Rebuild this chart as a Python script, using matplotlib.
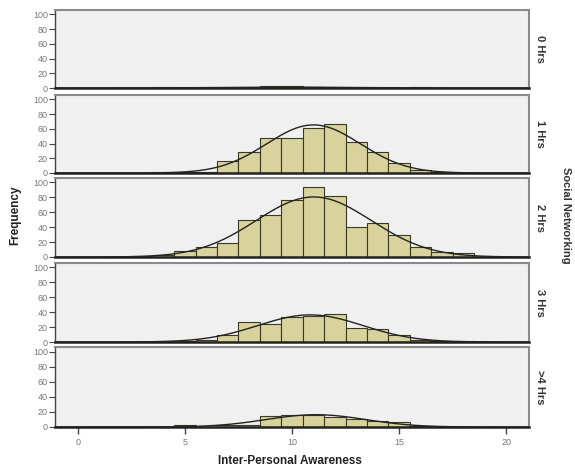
import numpy as np
import matplotlib
matplotlib.use("Agg")
from matplotlib import pyplot as plt

plt.rcParams['font.family'] = ['Liberation Sans', 'DejaVu Sans']

# score bins (width 1, centred on integers)
score_bins = [3, 4, 5, 6, 7, 8, 9, 10, 11, 12, 13, 14, 15, 16, 17, 18]

groups = ["0 Hrs", "1 Hrs", "2 Hrs", "3 Hrs", ">4 Hrs"]
counts_0h = [0, 1, 0, 0, 0, 0, 3, 3, 1, 0, 0, 0, 0, 1, 0, 0]
counts_1h = [0, 1, 1, 2, 16, 28, 47, 48, 61, 66, 42, 29, 13, 4, 1, 0]
counts_2h = [2, 3, 8, 13, 19, 49, 56, 76, 94, 82, 40, 46, 30, 13, 7, 6]
counts_3h = [0, 2, 1, 3, 9, 27, 24, 33, 35, 38, 19, 17, 10, 3, 2, 1]
counts_4h = [0, 0, 3, 0, 2, 3, 15, 16, 16, 13, 11, 8, 7, 1, 0, 0]
all_counts = [counts_0h, counts_1h, counts_2h, counts_3h, counts_4h]

x_ticks = [0, 5, 10, 15, 20]
y_ticks = [0, 20, 40, 60, 80, 100]

bar_color = "#d8d29c"
panel_bg = "#f0f0f0"

fig = plt.figure(figsize=(5.75, 4.72), dpi=100)
W, H = 575.0, 472.0
left, right = 55, 529
rows = [(10, 88), (95, 173), (178, 257), (263, 342), (347, 427)]

xs = np.array(score_bins, dtype=float)
grid = np.linspace(-1, 21, 400)

for i, (name, counts, (top, bot)) in enumerate(zip(groups, all_counts, rows)):
    ax = fig.add_axes([left / W, 1 - bot / H, (right - left) / W, (bot - top) / H])
    ax.set_facecolor(panel_bg)
    c = np.array(counts, dtype=float)
    nz = c > 0
    ax.bar(xs[nz], c[nz], width=1.0, color=bar_color, edgecolor="#3a3a1e", linewidth=0.8, zorder=2)

    # fitted normal curve, scaled to counts per bin
    n = c.sum()
    mu = (c * xs).sum() / n
    sd = np.sqrt((c * (xs - mu) ** 2).sum() / (n - 1))
    curve = n * np.exp(-0.5 * ((grid - mu) / sd) ** 2) / (sd * np.sqrt(2 * np.pi))
    ax.plot(grid, curve, color="#222222", linewidth=1.0, zorder=3)

    ax.set_xlim(-1.07, 21.07)
    ax.set_ylim(0, 106)
    ax.set_yticks(y_ticks)
    ax.set_yticklabels([str(v) for v in y_ticks], fontsize=6.5, color="#777777")
    ax.tick_params(axis="y", direction="out", length=4, width=0.8, color="#444444", pad=1)

    for side in ["top", "right"]:
        ax.spines[side].set_color("#8a8a8a")
        ax.spines[side].set_linewidth(1.5)
    ax.spines["left"].set_color("#444444")
    ax.spines["left"].set_linewidth(1.0)
    ax.spines["bottom"].set_color("#222222")
    ax.spines["bottom"].set_linewidth(1.8)

    ax.set_xticks(x_ticks)
    if i == len(groups) - 1:
        ax.set_xticklabels([str(v) for v in x_ticks], fontsize=6.5, color="#777777")
        ax.tick_params(axis="x", direction="out", length=5, width=1.0, color="#444444", pad=3)
    else:
        ax.tick_params(axis="x", length=0, labelbottom=False)

    fig.text(540 / W, 1 - (top + bot) / 2 / H, name, rotation=-90, ha="center", va="center",
             fontsize=8, fontweight="bold", color="#333333")

fig.text(15 / W, 1 - 215 / H, "Frequency", rotation=90, ha="center", va="center",
         fontsize=8.5, fontweight="bold", color="#222222")
fig.text(566 / W, 1 - 215 / H, "Social Networking", rotation=-90, ha="center", va="center",
         fontsize=8, fontweight="bold", color="#333333")
fig.text(290 / W, 1 - 461 / H, "Inter-Personal Awareness", ha="center", va="center",
         fontsize=8.5, fontweight="bold", color="#222222")

fig.savefig("out.png", dpi=100, facecolor="white")
